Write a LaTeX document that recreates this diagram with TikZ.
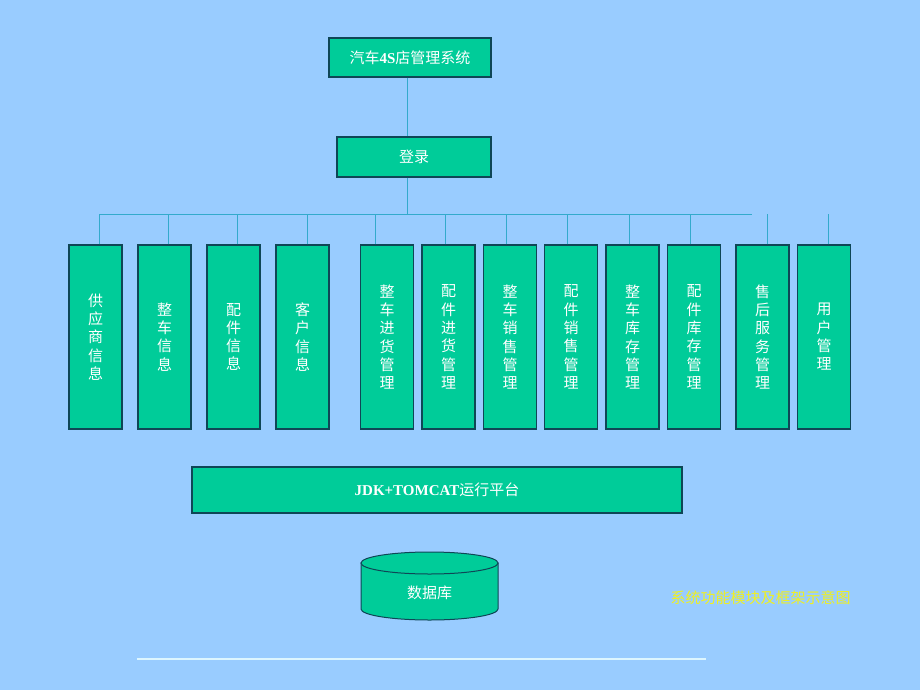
\documentclass[tikz,border=0pt]{standalone}
\usepackage{fontspec}
\setmainfont{Liberation Serif}
\newfontfamily\cjk{Noto Sans CJK SC}
\definecolor{bg}{HTML}{99CCFF}
\definecolor{boxfill}{HTML}{00CC99}
\definecolor{boxline}{HTML}{0F4656}
\definecolor{conn}{HTML}{33AACC}
\definecolor{capyellow}{HTML}{F0F020}
\definecolor{rulelight}{HTML}{DDF6FF}
\definecolor{ruledark}{HTML}{88BBEE}
\tikzset{
  box/.style={draw=boxline, line width=1.2pt, fill=boxfill, inner sep=0pt, text=white, font=\cjk\fontsize{15}{18.3}\selectfont, align=center},
  modbox/.style={box, minimum width=53, minimum height=184},
  connector/.style={draw=conn, line width=1pt}
}
\begin{document}
\begin{tikzpicture}[x=1pt, y=-1pt]
\fill[bg] (0,0) rectangle (920,690);
\useasboundingbox (0,0) rectangle (920,690);

\node[box, minimum width=162, minimum height=39] (top) at (410,57.5) {汽车{\rmfamily\bfseries 4S}店管理系统};
\node[box, minimum width=154, minimum height=40] (login) at (414,157) {登录};

\node[modbox] (b1) at (95.5,337) {供\\应\\商\\信\\息};
\node[modbox] (b2) at (164.5,337) {整\\车\\信\\息};
\node[modbox] (b3) at (233.5,337) {配\\件\\信\\息};
\node[modbox] (b4) at (302.5,337) {客\\户\\信\\息};
\node[modbox] (b5) at (387,337) {整\\车\\进\\货\\管\\理};
\node[modbox] (b6) at (448.5,337) {配\\件\\进\\货\\管\\理};
\node[modbox] (b7) at (510,337) {整\\车\\销\\售\\管\\理};
\node[modbox] (b8) at (571,337) {配\\件\\销\\售\\管\\理};
\node[modbox] (b9) at (632.5,337) {整\\车\\库\\存\\管\\理};
\node[modbox] (b10) at (694,337) {配\\件\\库\\存\\管\\理};
\node[modbox] (b11) at (762.5,337) {售\\后\\服\\务\\管\\理};
\node[modbox] (b12) at (824,337) {用\\户\\管\\理};

\coordinate (hlA) at (99,214);
\coordinate (hlB) at (752,214);

\draw[connector] ([xshift=-3pt]top.south) -- ([xshift=-7pt]login.north);
\draw[connector] ([xshift=-7pt]login.south) -- ([xshift=-7pt]login.south |- hlA);
\draw[connector] (hlA) -- (hlB);
\foreach \b/\dx in {b1/3.5, b2/3.5, b3/3.5, b4/4.5, b5/-12, b6/-3.5, b7/-4, b8/-4, b9/-3.5, b10/-4, b11/4.5, b12/4} {
  \draw[connector] ([xshift=\dx pt]\b.north) -- ([xshift=\dx pt]\b.north |- hlA);
}

\node[box, minimum width=490, minimum height=46, font=\bfseries\fontsize{15}{18}\selectfont] (plat) at (437,490) {JDK+TOMCAT{\cjk\mdseries 运行平台}};

% database cylinder
\filldraw[draw=boxline, line width=1pt, fill=boxfill] (361,563) -- (361,609) arc[start angle=180, end angle=0, x radius=68.5, y radius=11] -- (498,563) -- cycle;
\filldraw[draw=boxline, line width=1pt, fill=boxfill] (429.5,563) ellipse[x radius=68.5, y radius=11];
\node[text=white, font=\cjk\fontsize{15}{18}\selectfont] (db) at (429.5,593) {数据库};

\node[text=capyellow, font=\cjk\fontsize{15}{18}\selectfont] (cap) at (760.5,598) {系统功能模块及框架示意图};

\coordinate (rA) at (137,659);
\coordinate (rB) at (706,659);
\draw[ruledark, line width=2.5pt] (rA) -- (rB);
\draw[rulelight, line width=1.2pt] (rA) -- (rB);
\end{tikzpicture}
\end{document}
